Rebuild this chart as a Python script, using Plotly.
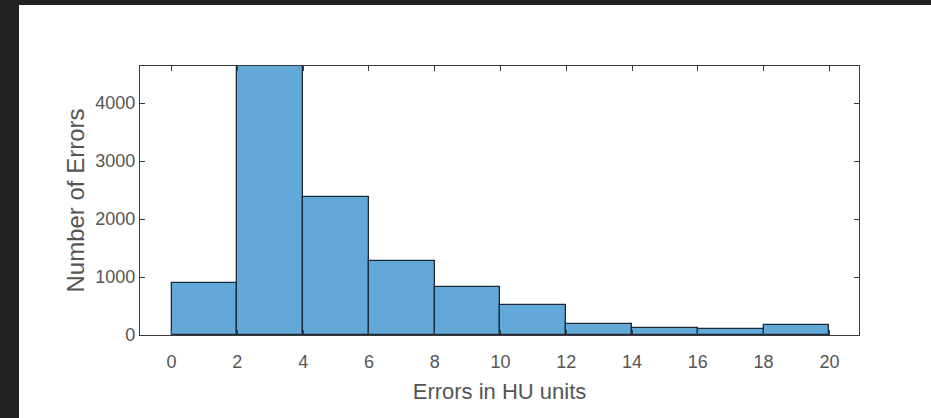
import plotly.graph_objects as go

bin_edges = [0, 2, 4, 6, 8, 10, 12, 14, 16, 18, 20]
counts = [890, 4640, 2375, 1280, 820, 515, 195, 120, 95, 170]
x_ticks = [0, 2, 4, 6, 8, 10, 12, 14, 16, 18, 20]
y_ticks = [0, 1000, 2000, 3000, 4000]
x_title = "Errors in HU units"
y_title = "Number of Errors"

centers = [(a + b) / 2 for a, b in zip(bin_edges[:-1], bin_edges[1:])]
widths = [b - a for a, b in zip(bin_edges[:-1], bin_edges[1:])]

W, H = 931, 418
L, R, T, B = 140, 72, 66, 83
pw, ph = W - L - R, H - T - B
FONT = "Liberation Sans, Arial, sans-serif"

fig = go.Figure()
fig.add_trace(go.Bar(
    x=centers, y=counts, width=widths,
    marker=dict(color="#62a8d9", line=dict(color="#1c2a38", width=1.3)),
    showlegend=False,
))

axis_common = dict(
    showline=True, linecolor="#3a3a3a", linewidth=1.3,
    mirror="ticks", ticks="inside", ticklen=5, tickwidth=1.2, tickcolor="#3a3a3a",
    showgrid=False, zeroline=False,
    tickfont=dict(family=FONT, size=18, color="#555555"),
)

fig.update_xaxes(
    range=[-0.96, 20.9], tickvals=x_ticks, ticktext=[str(v) for v in x_ticks],
    ticklabelstandoff=10,
    title=dict(text=x_title, font=dict(family=FONT, size=22, color="#555555"), standoff=12),
    **axis_common,
)
fig.update_yaxes(
    range=[0, 4640], tickvals=y_ticks, ticktext=[str(v) for v in y_ticks],
    title=dict(text=y_title, font=dict(family=FONT, size=24, color="#555555"), standoff=3),
    **axis_common,
)

# white panel on dark surround
fig.add_shape(
    type="rect", xref="paper", yref="paper", layer="below",
    x0=(19 - L) / pw, x1=(W + 5 - L) / pw,
    y0=(T + ph - (H + 5)) / ph, y1=(T + ph - 5) / ph,
    fillcolor="white", line=dict(width=0),
)

fig.update_layout(
    width=W, height=H,
    margin=dict(l=L, r=R, t=T, b=B),
    paper_bgcolor="#222222", plot_bgcolor="white",
    bargap=0,
)

fig.write_html(
    "out.html",
    config={"displayModeBar": False},
    post_script="document.body.style.margin='0';document.body.style.padding='0';"
                "document.body.style.background='#222222';",
)
